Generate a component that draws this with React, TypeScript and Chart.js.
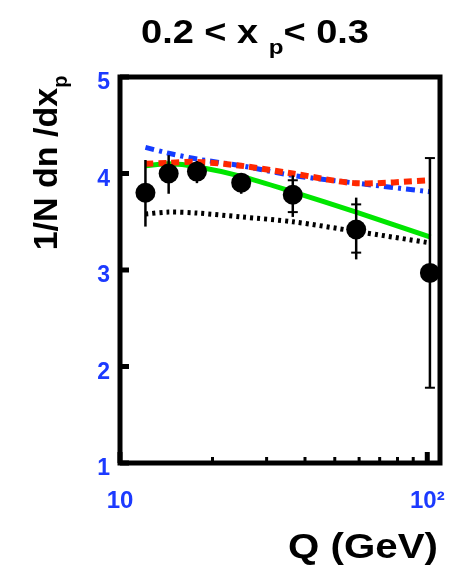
import React, { useEffect, useRef } from "react";
import { Chart, registerables } from "chart.js";

Chart.register(...registerables);

// ---- data ----
const qPoints = [12.1, 14.4, 17.8, 24.8, 36.5, 58.7, 102];
const yPoints = [3.8, 4.0, 4.02, 3.905, 3.78, 3.42, 2.97];
const totHi = [4.14, 4.19, 4.13, 4.0, 3.98, 3.75, 4.16];
const totLo = [3.45, 3.79, 3.9, 3.79, 3.55, 3.11, 1.78];
const capHi: (number | null)[] = [null, null, null, null, 3.93, 3.68, 4.16];
const capLo: (number | null)[] = [null, null, null, null, 3.6, 3.18, 1.78];

const qModel = [12.1, 14.4, 17.8, 24.8, 36.5, 58.7, 102.5];
const greenModel = [4.08, 4.1, 4.07, 3.97, 3.81, 3.6, 3.34];
const redModel = [4.1, 4.11, 4.12, 4.08, 4.0, 3.9, 3.93];
const blueModel = [4.27, 4.21, 4.15, 4.08, 3.98, 3.9, 3.81];
const blackModel = [3.58, 3.6, 3.59, 3.55, 3.5, 3.4, 3.28];

const yTicks = [1, 2, 3, 4, 5];
const xMajor = [10, 100];
const xMajorLabels = ["10", "10\u00B2"];
const xMinor = [20, 30, 40, 50, 60, 70, 80, 90];

const BLUE = "rgb(28,58,255)";
const FONT = '"Liberation Sans", Arial, Helvetica, sans-serif';

const framePlugin = {
  id: "frame",
  beforeDatasetDraw(chart: any, args: any) {
    if (args.index !== 0) return;
    const ctx = chart.ctx;
    const xs = chart.scales.x;
    const ys = chart.scales.y;
    ctx.save();
    ctx.strokeStyle = "#000";
    for (let i = 0; i < qPoints.length; i++) {
      const px = xs.getPixelForValue(qPoints[i]);
      ctx.lineWidth = 2.5;
      ctx.beginPath();
      ctx.moveTo(px, ys.getPixelForValue(totHi[i]));
      ctx.lineTo(px, ys.getPixelForValue(totLo[i]));
      ctx.stroke();
      ctx.lineWidth = 2;
      [capHi[i], capLo[i]].forEach((c) => {
        if (c === null) return;
        const py = ys.getPixelForValue(c);
        ctx.beginPath();
        ctx.moveTo(px - 5, py);
        ctx.lineTo(px + 5, py);
        ctx.stroke();
      });
    }
    ctx.restore();
  },
  afterDraw(chart: any) {
    const ctx = chart.ctx;
    const a = chart.chartArea;
    const xs = chart.scales.x;
    const ys = chart.scales.y;
    ctx.save();
    ctx.strokeStyle = "#000";
    ctx.lineWidth = 5;
    yTicks.forEach((v) => {
      const py = ys.getPixelForValue(v);
      ctx.beginPath();
      ctx.moveTo(a.left, py);
      ctx.lineTo(a.left + 9, py);
      ctx.stroke();
    });
    ctx.lineWidth = 3;
    xMinor.forEach((v) => {
      const px = xs.getPixelForValue(v);
      ctx.beginPath();
      ctx.moveTo(px, a.bottom);
      ctx.lineTo(px, a.bottom - 6);
      ctx.stroke();
    });
    ctx.lineWidth = 5;
    xMajor.forEach((v) => {
      const px = xs.getPixelForValue(v);
      ctx.beginPath();
      ctx.moveTo(px, a.bottom);
      ctx.lineTo(px, a.bottom - 11);
      ctx.stroke();
    });
    ctx.lineWidth = 5;
    ctx.strokeRect(a.left, a.top, a.right - a.left, a.bottom - a.top);
    ctx.restore();
  },
};

function line(data: number[], color: string, width: number, dash: number[]) {
  return {
    data: qModel.map((q, i) => ({ x: q, y: data[i] })),
    showLine: true,
    borderColor: color,
    backgroundColor: color,
    borderWidth: width,
    borderDash: dash,
    pointRadius: 0,
    pointHoverRadius: 0,
    tension: 0.3,
    borderCapStyle: "butt",
  };
}

export default function App() {
  const ref = useRef<HTMLCanvasElement>(null);
  useEffect(() => {
    const chart = new Chart(ref.current as HTMLCanvasElement, {
      type: "scatter",
      data: {
        datasets: [
          {
            data: qPoints.map((q, i) => ({ x: q, y: yPoints[i] })),
            pointRadius: 10,
            pointHoverRadius: 10,
            backgroundColor: "#000",
            borderColor: "#000",
            borderWidth: 0,
            showLine: false,
          } as any,
          line(redModel, "rgb(255,40,0)", 6, [8, 5]) as any,
          line(blueModel, "rgb(20,60,255)", 5, [9, 5, 3, 5]) as any,
          line(greenModel, "rgb(0,230,0)", 5, []) as any,
          line(blackModel, "#000", 5, [3, 4]) as any,
        ],
      },
      options: {
        animation: false,
        responsive: false,
        devicePixelRatio: 1,
        layout: { autoPadding: false, padding: { top: 77, right: 9, left: 0, bottom: 0 } },
        plugins: { legend: { display: false }, tooltip: { enabled: false }, title: { display: false } },
        scales: {
          x: {
            type: "logarithmic",
            min: 10,
            max: 110,
            position: "bottom",
            grid: { display: false, drawTicks: false },
            border: { display: false },
            afterBuildTicks: (s: any) => {
              s.ticks = xMajor.map((v) => ({ value: v }));
            },
            afterFit: (s: any) => {
              s.height = 107;
              s.paddingLeft = 0;
              s.paddingRight = 0;
            },
            ticks: {
              autoSkip: false,
              maxRotation: 0,
              padding: 24,
              color: BLUE,
              font: { family: FONT, size: 24, weight: "bold" },
              callback: (v: any) => {
                const i = xMajor.indexOf(Number(v));
                return i >= 0 ? xMajorLabels[i] : "";
              },
            },
          },
          y: {
            type: "linear",
            min: 1,
            max: 5,
            grid: { display: false, drawTicks: false },
            border: { display: false },
            afterBuildTicks: (s: any) => {
              s.ticks = yTicks.map((v) => ({ value: v }));
            },
            afterFit: (s: any) => {
              s.width = 120;
              s.paddingTop = 0;
              s.paddingBottom = 0;
            },
            ticks: {
              padding: 10,
              labelOffset: 6,
              color: BLUE,
              font: { family: FONT, size: 23, weight: "bold" },
              callback: (v: any) => String(v),
            },
          },
        },
      } as any,
      plugins: [framePlugin],
    });
    return () => chart.destroy();
  }, []);

  return (
    <div
      style={{
        position: "absolute",
        left: 0,
        top: 0,
        width: 449,
        height: 570,
        background: "#fff",
        fontFamily: FONT,
        fontWeight: "bold",
        color: "#000",
        overflow: "hidden",
      }}
    >
      <canvas
        ref={ref}
        width={449}
        height={570}
        style={{ position: "absolute", left: 0, top: 0, width: 449, height: 570 }}
      />
      <div
        style={{
          position: "absolute",
          left: 105,
          top: 15,
          width: 300,
          height: 33,
          textAlign: "center",
          fontSize: 33,
          lineHeight: "33px",
          whiteSpace: "pre",
          transform: "scaleX(1.15)",
        }}
      >
        {"0.2 < x "}
        <span style={{ fontSize: 21, position: "relative", top: 11, lineHeight: "0" }}>p</span>
        {"< 0.3"}
      </div>
      <div
        style={{
          position: "absolute",
          left: -105,
          top: 146,
          width: 300,
          height: 34,
          textAlign: "center",
          fontSize: 34,
          lineHeight: "34px",
          whiteSpace: "pre",
          transform: "rotate(-90deg)",
        }}
      >
        {"1/N dn /dx"}
        <span style={{ fontSize: 20, position: "relative", top: 10, lineHeight: "0" }}>p</span>
      </div>
      <div
        style={{
          position: "absolute",
          left: 213,
          top: 528,
          width: 300,
          height: 35,
          textAlign: "center",
          fontSize: 35,
          lineHeight: "35px",
          whiteSpace: "pre",
          transform: "scaleX(1.15)",
        }}
      >
        {"Q (GeV)"}
      </div>
    </div>
  );
}
